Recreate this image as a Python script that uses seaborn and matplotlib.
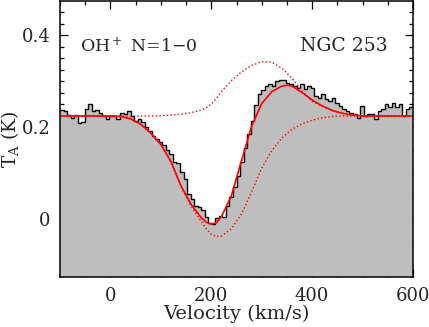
import numpy as np
import pandas as pd
import matplotlib
matplotlib.use('Agg')
import matplotlib.pyplot as plt
from matplotlib.ticker import MultipleLocator, FixedLocator, FuncFormatter
import seaborn as sns

# ── DATA ──────────────────────────────────────────────────
# spectrum channels (km/s), 7 km/s wide
chan_edges = np.arange(-100, 601, 7)
ta_spec = [
    0.238, 0.236, 0.228, 0.221, 0.228, 0.210, 0.212, 0.241, 0.252, 0.236,
    0.238, 0.231, 0.224, 0.218, 0.225, 0.225, 0.218, 0.232, 0.229, 0.235,
    0.224, 0.215, 0.219, 0.212, 0.202, 0.192, 0.182, 0.174, 0.168, 0.163,
    0.152, 0.143, 0.126, 0.122, 0.104, 0.088, 0.056, 0.044, 0.030, 0.027,
    0.020, 0.005, -0.008, -0.010, 0.004, 0.008, 0.006, 0.030, 0.048, 0.070,
    0.095, 0.125, 0.155, 0.186, 0.215, 0.248, 0.272, 0.282, 0.290, 0.295,
    0.290, 0.300, 0.304, 0.303, 0.297, 0.295, 0.290, 0.286, 0.295, 0.284,
    0.290, 0.286, 0.269, 0.265, 0.273, 0.262, 0.258, 0.264, 0.254, 0.247,
    0.240, 0.236, 0.232, 0.230, 0.221, 0.247, 0.225, 0.230, 0.230, 0.219,
    0.236, 0.240, 0.251, 0.245, 0.254, 0.245, 0.250, 0.225, 0.240, 0.244,
]

# fitted profiles
fit_vel = [-100, -50, 0, 20, 40, 60, 80, 100, 120, 140,
           160, 180, 190, 200, 210, 220, 240, 260, 280, 300,
           320, 340, 350, 360, 380, 400, 420, 440, 460, 480,
           500, 550, 600]
fit_total = [0.225, 0.225, 0.225, 0.224, 0.219, 0.207, 0.188, 0.163, 0.126, 0.073,
             0.033, 0.004, -0.006, -0.010, -0.007, 0.006, 0.052, 0.128, 0.203, 0.252,
             0.278, 0.290, 0.292, 0.290, 0.276, 0.260, 0.247, 0.237, 0.231, 0.227,
             0.225, 0.225, 0.225]
fit_emission = [0.225, 0.225, 0.225, 0.225, 0.225, 0.225, 0.225, 0.2255, 0.227, 0.229,
                0.232, 0.238, 0.243, 0.251, 0.263, 0.278, 0.302, 0.321, 0.335, 0.343,
                0.342, 0.329, 0.318, 0.307, 0.279, 0.257, 0.246, 0.237, 0.231, 0.227,
                0.225, 0.225, 0.225]
fit_absorption = [0.225, 0.225, 0.225, 0.224, 0.219, 0.207, 0.188, 0.163, 0.125, 0.071,
                  0.029, -0.004, -0.020, -0.032, -0.037, -0.036, -0.020, 0.012, 0.060, 0.112,
                  0.150, 0.177, 0.187, 0.196, 0.208, 0.216, 0.221, 0.224, 0.225, 0.225,
                  0.225, 0.225, 0.225]

fits = pd.DataFrame({'vel': fit_vel, 'total': fit_total,
                     'emission': fit_emission, 'absorption': fit_absorption})

# ── STYLE ─────────────────────────────────────────────────
sns.set_style('ticks')
plt.rcParams['font.family'] = ['DejaVu Serif']
plt.rcParams['mathtext.fontset'] = 'dejavuserif'
plt.rcParams['font.size'] = 13

fig = plt.figure(figsize=(4.29, 3.27), dpi=100)
ax = fig.add_axes([60/429, 50/327, 353/429, 276/327])

YMIN, YMAX = -0.125, 0.475

# spectrum: grey filled histogram with black outline
ax.stairs(ta_spec, chan_edges, baseline=YMIN, fill=True,
          color='#bebebe', linewidth=0)
ax.stairs(ta_spec, chan_edges, baseline=None, color='black', linewidth=1.0)

# Gaussian components (dotted) and total fit (solid)
sns.lineplot(data=fits, x='vel', y='emission', ax=ax, color='red',
             linestyle=':', linewidth=1.0, estimator=None, sort=False)
sns.lineplot(data=fits, x='vel', y='absorption', ax=ax, color='red',
             linestyle=':', linewidth=1.0, estimator=None, sort=False)
sns.lineplot(data=fits, x='vel', y='total', ax=ax, color='red',
             linewidth=1.2, estimator=None, sort=False)

ax.set_xlim(-100, 600)
ax.set_ylim(YMIN, YMAX)

ax.xaxis.set_major_locator(MultipleLocator(200))
ax.xaxis.set_minor_locator(MultipleLocator(50))
ax.yaxis.set_major_locator(MultipleLocator(0.2))
ax.yaxis.set_minor_locator(FixedLocator(
    [-0.1, -0.05, 0.05, 0.1, 0.15, 0.225, 0.25, 0.275, 0.3,
     0.325, 0.35, 0.375, 0.425, 0.45]))
ax.yaxis.set_major_formatter(FuncFormatter(
    lambda v, p: '0' if abs(v) < 1e-9 else f'{v:.1f}'))

ax.tick_params(which='both', direction='in', top=True, right=True,
               width=0.9, color='black', labelsize=13)
ax.tick_params(which='major', length=5.5, pad=7)
ax.tick_params(which='minor', length=3.2)
for sp in ax.spines.values():
    sp.set_linewidth(1.1)
    sp.set_color('black')

ax.set_xlabel('Velocity (km/s)', fontsize=14, labelpad=0)
ax.set_ylabel('T$_\\mathrm{A}$ (K)', fontsize=13.5)
ax.yaxis.set_label_coords(-0.11, 0.5)

ax.text(-60, 0.377, 'OH$^+$ N=1$-$0', fontsize=12.5, ha='left', va='center')
ax.text(550, 0.377, 'NGC 253', fontsize=13.5, ha='right', va='center')

fig.savefig('out.png', dpi=100, facecolor='white')
